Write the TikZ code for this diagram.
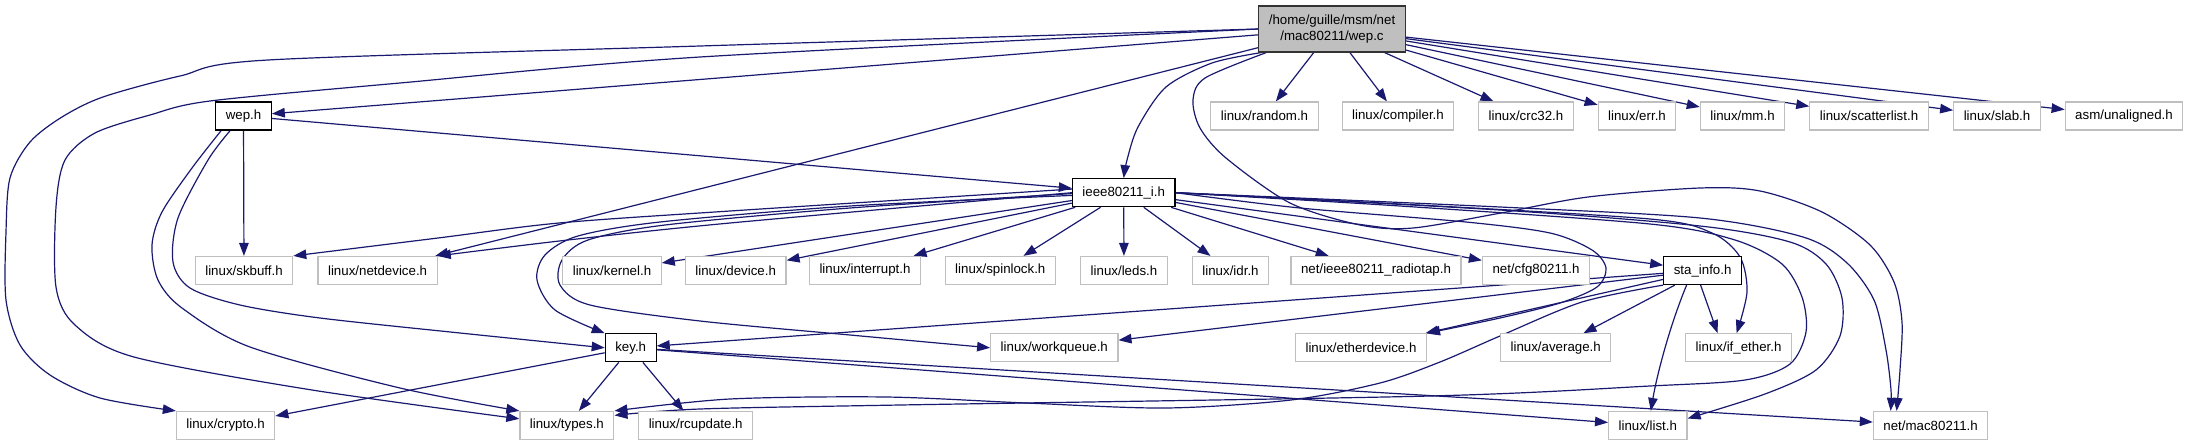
\documentclass[tikz,border=0pt]{standalone}
\usepackage{fontspec}
\setmainfont{Liberation Sans}
\usetikzlibrary{arrows.meta}
\pgfdeclarelayer{bg}
\pgfsetlayers{bg,main}
\definecolor{edgec}{HTML}{191970}
\definecolor{gbord}{HTML}{BFBFBF}
\definecolor{gfill}{HTML}{BFBFBF}
\begin{document}
\begin{tikzpicture}[x=1pt,y=-1pt,
  box/.style={draw=gbord, fill=white, line width=1.2pt, minimum height=28pt, inner xsep=10pt, inner ysep=0pt, font=\fontsize{13.3}{16}\selectfont, text=black},
  docbox/.style={box, draw=black},
  rootbox/.style={box, draw=black!80, fill=gfill, minimum height=46pt, align=center},
  edge/.style={draw=edgec, line width=1.2pt, -{Triangle[length=13pt,width=9.5pt]}}]
\useasboundingbox (0,0) rectangle (2188,445);
% row 1
\node[rootbox] (wepc) at (1332,29) {/home/guille/msm/net\\/mac80211/wep.c};
% row 2
\node[docbox] (weph) at (243.5,116) {wep.h};
\node[box] (random) at (1264.5,116) {linux/random.h};
\node[box] (compiler) at (1398,116) {linux/compiler.h};
\node[box] (crc32) at (1526,116) {linux/crc32.h};
\node[box] (err) at (1637,116) {linux/err.h};
\node[box] (mm) at (1742.5,116) {linux/mm.h};
\node[box] (scatter) at (1869,116) {linux/scatterlist.h};
\node[box] (slab) at (1997,116) {linux/slab.h};
\node[box] (unaligned) at (2124,116) {asm/unaligned.h};
% row 3
\node[docbox] (ieee) at (1123.7,192.7) {ieee80211\_i.h};
% row 4
\node[box] (skbuff) at (244,270.5) {linux/skbuff.h};
\node[box] (netdevice) at (377.6,270.5) {linux/netdevice.h};
\node[box] (kernel) at (612,270.5) {linux/kernel.h};
\node[box] (device) at (735.7,270.5) {linux/device.h};
\node[box] (interrupt) at (865,270.5) {linux/interrupt.h};
\node[box] (spinlock) at (1000.3,270.5) {linux/spinlock.h};
\node[box] (leds) at (1124,270.5) {linux/leds.h};
\node[box] (idr) at (1230.5,270.5) {linux/idr.h};
\node[box] (radiotap) at (1376,270.5) {net/ieee80211\_radiotap.h};
\node[box] (cfg) at (1536,270.5) {net/cfg80211.h};
\node[docbox] (stainfo) at (1702.6,270.5) {sta\_info.h};
% row 5
\node[docbox] (key) at (630.7,347.8) {key.h};
\node[box] (workqueue) at (1054.3,347.8) {linux/workqueue.h};
\node[box] (etherdevice) at (1361,347.8) {linux/etherdevice.h};
\node[box] (average) at (1555.7,347.8) {linux/average.h};
\node[box] (ifether) at (1738.6,347.8) {linux/if\_ether.h};
% row 6
\node[box] (crypto) at (225.6,425.5) {linux/crypto.h};
\node[box] (types) at (566.9,425.5) {linux/types.h};
\node[box] (rcupdate) at (695.7,425.5) {linux/rcupdate.h};
\node[box] (list) at (1647.8,425.5) {linux/list.h};
\node[box] (mac) at (1930.6,425.5) {net/mac80211.h};

\begin{pgfonlayer}{bg}
% wep.c
\draw[edge] (wepc) -- (weph);
\draw[edge] plot[smooth] coordinates {(wepc.west) (700,46) (268,60) (180,76) (103,97) (62,117) (30,142) (10,178) (6,232) (6,300) (20,345) (50,375) (100,398) (crypto.north west)};
\draw[edge] plot[smooth] coordinates {(wepc.west) (700,57) (400,83) (210,101) (150,115) (95,133) (65,160) (56,207) (56,287) (75,325) (134,357) (312,390) (types.172)};
\draw[edge] (wepc) -- (netdevice);
\draw[edge] plot[smooth] coordinates {([xshift=3pt]wepc.south west) (1212,63) (1166,87) (1138,127) (1127,160) (ieee.north)};
\draw[edge] plot[smooth] coordinates {([xshift=8pt]wepc.south west) (1205,78) (1193,100) (1200,128) (1226,158) (1290,203) (1360,225) (1413,228) (1501,213) (1588,197) (1700,188) (1760,191) (1822,212) (1870,245) (1894,282) (1902,322) (1900,370) ([xshift=-34pt]mac.north)};
\foreach \n in {random,compiler,crc32,err,mm,scatter,slab,unaligned}
  \draw[edge] (wepc) -- (\n);
% wep.h
\draw[edge] (weph) -- (ieee);
\draw[edge] (weph) -- (skbuff);
\draw[edge] plot[smooth] coordinates {([xshift=6pt]weph.south west) (192,168) (162,212) (152,245) (158,280) (182,308) (250,347) (400,388) (types.north west)};
\draw[edge] plot[smooth] coordinates {([xshift=15pt]weph.south west) (208,160) (178,218) (173,262) (190,288) (240,305) (320,318) (460,333) (key.west)};
% ieee80211_i.h left
\draw[edge] plot[smooth] coordinates {(ieee.176) (730,211) (559,223) (438,238) (skbuff.north east)};
\draw[edge] plot[smooth] coordinates {(ieee.west) (730,223) (568,240) (netdevice.north east)};
\draw[edge] plot[smooth] coordinates {(ieee.183) (850,206) (660,222) (578,236) (545,255) (537,280) (555,310) (key.north west)};
\draw[edge] plot[smooth] coordinates {(ieee.181) (850,208) (665,225) (588,240) (562,260) (560,285) (590,305) (700,321) (850,335) (workqueue.west)};
\foreach \n in {kernel,device,interrupt,spinlock,leds,idr,radiotap,cfg,stainfo}
  \draw[edge] (ieee) -- (\n);
% ieee80211_i.h right
\draw[edge] plot[smooth] coordinates {(ieee.east) (1300,208) (1466,222) (1550,233) (1592,250) (1606,268) (1597,287) (1560,303) (1500,318) (etherdevice.north east)};
\draw[edge] plot[smooth] coordinates {(ieee.east) (1400,204) (1650,219) (1712,233) (1740,257) (1747,292) ([xshift=-2pt]ifether.north)};
\draw[edge] plot[smooth] coordinates {(ieee.east) (1400,206) (1650,224) (1735,240) (1782,264) (1802,297) (1806,332) (1790,364) (1745,380) (1650,386) (1430,396) (900,405) (700,409) (types.12)};
\draw[edge] plot[smooth] coordinates {(ieee.east) (1500,210) (1700,226) (1790,242) (1826,264) (1842,298) (1840,336) (1816,370) (1765,394) (list.10)};
\draw[edge] plot[smooth] coordinates {(ieee.east) (1500,207) (1700,218) (1803,237) (1846,262) (1874,300) (1886,350) (1891,390) ([xshift=-40pt]mac.north)};
% sta_info.h
\draw[edge] (stainfo) -- (key);
\draw[edge] (stainfo) -- (workqueue);
\draw[edge] (stainfo) -- (etherdevice);
\draw[edge] (stainfo) -- (average);
\draw[edge] ([xshift=-2pt]stainfo.south) -- ([xshift=-21pt]ifether.north);
\draw[edge] ([xshift=-16pt]stainfo.south) .. controls (1668,330) and (1656,380) .. ([xshift=3pt]list.north);
\draw[edge] plot[smooth] coordinates {(stainfo.south west) (1582,302) (1500,336) (1440,362) (1380,383) (1291,400) (1166,408) (1026,403) (886,397) (730,399) (types.north east)};
% key.h
\foreach \n in {crypto,types,rcupdate,list,mac}
  \draw[edge] (key) -- (\n);
\end{pgfonlayer}
\end{tikzpicture}
\end{document}
